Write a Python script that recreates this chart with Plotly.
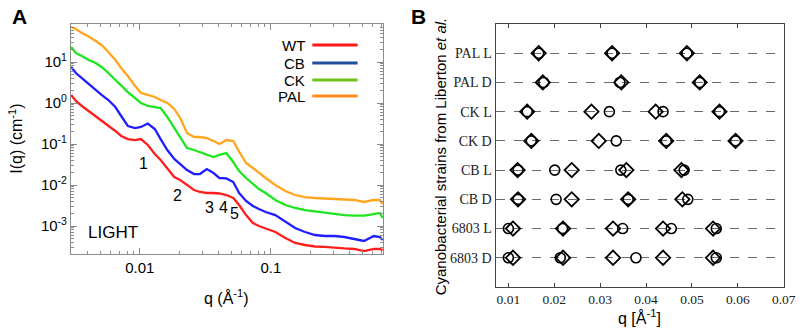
import plotly.graph_objects as go

W, H = 809, 332

# ---------------- Panel A data (SAXS curves, LIGHT) ----------------
q_A = [0.00299, 0.00325, 0.00361, 0.00407, 0.0046, 0.0051, 0.00575, 0.0065, 0.0072, 0.0081,
       0.0092, 0.0102, 0.0115, 0.013, 0.0144, 0.0162, 0.0183, 0.0203, 0.0229, 0.0259,
       0.0287, 0.0324, 0.0365, 0.0405, 0.0457, 0.0516, 0.0572, 0.0646, 0.0729, 0.0809,
       0.0912, 0.108, 0.129, 0.153, 0.182, 0.217, 0.257, 0.306, 0.363, 0.432,
       0.513, 0.61, 0.677, 0.713]

I_PAL = [71.4, 63.8, 50.9, 41.9, 32.5, 26.0, 17.5, 11.2, 7.14, 4.56,
         2.60, 1.75, 1.57, 1.40, 1.18, 1.0, 0.715, 0.431, 0.185, 0.148,
         0.148, 0.140, 0.118, 0.100, 0.125, 0.118, 0.065, 0.0344, 0.0260, 0.0196,
         0.0148, 0.0100, 0.00714, 0.00570, 0.00509, 0.00482, 0.00469, 0.00456, 0.00431, 0.00431,
         0.00385, 0.00431, 0.00431, 0.00344]

I_CK = [23.2, 16.6, 14.0, 11.2, 9.46, 7.55, 5.39, 3.64, 2.60, 1.85,
        1.32, 1.0, 0.845, 0.798, 0.755, 0.456, 0.245, 0.140, 0.0798, 0.0714,
        0.0638, 0.0570, 0.0482, 0.0540, 0.0600, 0.0364, 0.0219, 0.0148, 0.0106, 0.00798,
        0.00638, 0.00431, 0.00325, 0.00275, 0.00245, 0.00226, 0.00208, 0.00196, 0.00185, 0.00180,
        0.00180, 0.00196, 0.00208, 0.00157]

I_CB = [7.55, 5.39, 4.07, 2.91, 2.08, 1.57, 1.18, 0.798, 0.482, 0.275,
        0.245, 0.260, 0.316, 0.232, 0.132, 0.0714, 0.0431, 0.0325, 0.0232, 0.0185,
        0.0185, 0.0245, 0.0196, 0.0148, 0.0145, 0.0118, 0.00638, 0.00407, 0.00308, 0.00260,
        0.00219, 0.00185, 0.00125, 0.000894, 0.000714, 0.000603, 0.000570, 0.000570, 0.000539, 0.000482,
        0.000431, 0.000570, 0.000539, 0.000456]

I_WT = [1.57, 1.12, 0.845, 0.638, 0.482, 0.364, 0.275, 0.208, 0.157, 0.132,
        0.125, 0.132, 0.0946, 0.0570, 0.0407, 0.0260, 0.0157, 0.0132, 0.0100, 0.00755,
        0.00675, 0.00638, 0.00638, 0.00621, 0.00570, 0.00482, 0.00325, 0.00185, 0.00118, 0.00100,
        0.000869, 0.000714, 0.000510, 0.000385, 0.000344, 0.000316, 0.000308, 0.000291, 0.000283, 0.000275,
        0.000245, 0.000275, 0.000275, 0.000260]

series_A = ["WT", "CB", "CK", "PAL"]
curve_colors = {"WT": "#ff1e1e", "CB": "#1e1eff", "CK": "#1ee61e", "PAL": "#ffa51e"}
legend_colors = {"WT": "#ff1a1a", "CB": "#1f4f9f", "CK": "#6cc41c", "PAL": "#ff8c1a"}
I_data = {"WT": I_WT, "CB": I_CB, "CK": I_CK, "PAL": I_PAL}

peak_labels = ["1", "2", "3", "4", "5"]

# ---------------- Panel B data (peak positions) ----------------
strains = ["6803 D", "6803 L", "CB D", "CB L", "CK D", "CK L", "PAL D", "PAL L"]
diamond_q = [
    [0.0110, 0.0219, 0.0328, 0.0437, 0.0546],
    [0.0110, 0.0219, 0.0328, 0.0437, 0.0546],
    [0.0121, 0.0238, 0.0361, 0.0479],
    [0.0120, 0.0238, 0.0357, 0.0477],
    [0.0150, 0.0297, 0.0444, 0.0595],
    [0.0141, 0.0281, 0.0421, 0.0560],
    [0.0175, 0.0346, 0.0517],
    [0.0166, 0.0326, 0.0489],
]
circle_q = [
    [0.0100, 0.0213, 0.0378, 0.0553],
    [0.0100, 0.0218, 0.0349, 0.0455, 0.0553],
    [0.0121, 0.0204, 0.0361, 0.0491],
    [0.0121, 0.0201, 0.0345, 0.0483],
    [0.0150, 0.0335, 0.0444, 0.0595],
    [0.0141, 0.0320, 0.0437, 0.0560],
    [0.0177, 0.0343, 0.0517],
    [0.0166, 0.0326, 0.0489],
]
xticks_B = [0.01, 0.02, 0.03, 0.04, 0.05, 0.06, 0.07]

# ---------------- figure ----------------
def px(x):
    return x / W

def py(y):
    return 1 - y / H

fig = go.Figure()

for name in series_A:
    fig.add_trace(go.Scatter(x=q_A, y=I_data[name], mode="lines", name=name,
                             line=dict(color=curve_colors[name], width=2.3),
                             xaxis="x", yaxis="y", showlegend=False))

pos = list(range(1, len(strains) + 1))
for i, s in enumerate(strains):
    fig.add_trace(go.Scatter(x=diamond_q[i], y=[pos[i]] * len(diamond_q[i]), mode="markers",
                             marker=dict(symbol="diamond-open", size=11, color="black",
                                         line=dict(width=1.8, color="black")),
                             xaxis="x2", yaxis="y2", showlegend=False))
    fig.add_trace(go.Scatter(x=circle_q[i], y=[pos[i]] * len(circle_q[i]), mode="markers",
                             marker=dict(symbol="circle-open", size=10, color="black",
                                         line=dict(width=1.6, color="black")),
                             xaxis="x2", yaxis="y2", showlegend=False))

sans = "Arial, Liberation Sans, sans-serif"
serif = "Times New Roman, Liberation Serif, serif"
frameA = "#8c8c8c"

fig.update_layout(
    width=W, height=H, margin=dict(l=0, r=0, t=0, b=0),
    paper_bgcolor="white", plot_bgcolor="white",
    font=dict(family=sans, color="black"),
    xaxis=dict(type="log", domain=[px(72), px(389)], anchor="y",
               range=[-2.526, -0.143],
               tickvals=[0.01, 0.1], ticktext=["0.01", "0.1"],
               ticks="inside", ticklen=6, tickcolor=frameA, tickwidth=1,
               minor=dict(ticks="inside", ticklen=3, tickcolor=frameA, showgrid=False, dtick="D1"),
               showline=True, linecolor=frameA, linewidth=1, mirror="allticks",
               showgrid=False, zeroline=False, tickfont=dict(size=15, family=sans)),
    yaxis=dict(type="log", domain=[py(254), py(24)], anchor="x",
               range=[-3.683, 1.927],
               tickvals=[1e-3, 1e-2, 1e-1, 1, 10],
               ticktext=["10<sup>-3</sup>", "10<sup>-2</sup>", "10<sup>-1</sup>",
                         "10<sup>0</sup>", "10<sup>1</sup>"],
               ticks="inside", ticklen=6, tickcolor=frameA, tickwidth=1,
               minor=dict(ticks="inside", ticklen=3, tickcolor=frameA, showgrid=False, dtick="D1"),
               showline=True, linecolor=frameA, linewidth=1, mirror="allticks",
               showgrid=False, zeroline=False, tickfont=dict(size=15, family=sans)),
    xaxis2=dict(domain=[px(503), px(796)], anchor="y2", range=[0.0072, 0.0701],
                tickvals=xticks_B, ticktext=[f"{v:.2f}" for v in xticks_B],
                ticks="inside", ticklen=4, tickcolor="#444", mirror="allticks",
                showline=True, linecolor="#444", linewidth=1,
                showgrid=False, zeroline=False,
                tickfont=dict(size=13.5, family=serif, color="#222")),
    yaxis2=dict(domain=[py(287), py(24)], anchor="x2", range=[0.0, 9.0],
                tickvals=pos, ticktext=strains, ticks="", mirror=True,
                showline=True, linecolor="#444", linewidth=1,
                showgrid=True, gridcolor="#6a6a6a", gridwidth=1.4, griddash="dash",
                zeroline=False, tickfont=dict(size=14, family=serif, color="#222")),
)

ann = []
# panel letters
ann.append(dict(text="<b>A</b>", x=px(20), y=py(16), font=dict(size=21)))
ann.append(dict(text="<b>B</b>", x=px(425), y=py(16), font=dict(size=21)))
# axis titles
ann.append(dict(text="I(q) (cm<sup>-1</sup>)", x=px(16), y=py(139), textangle=-90, font=dict(size=16)))
ann.append(dict(text="q (Å<sup>-1</sup>)", x=px(230), y=py(297), font=dict(size=16)))
ann.append(dict(text="q [Å<sup>-1</sup>]", x=px(649), y=py(317), font=dict(size=16)))
ann.append(dict(text="Cyanobacterial strains from Liberton <i>et al.</i>", x=px(447), y=py(156),
                textangle=-90, font=dict(size=15)))
# peak numbers and condition label
for lbl, (ax_, ay_) in zip(peak_labels, [(146, 163), (180, 195), (213, 207), (227, 207), (238, 213)]):
    ann.append(dict(text=lbl, x=px(ax_), y=py(ay_), font=dict(size=16)))
ann.append(dict(text="LIGHT", x=px(115), y=py(233), font=dict(size=17)))
# manual legend text
shapes = []
for name, ly in zip(series_A, [45, 63, 80, 96]):
    ann.append(dict(text=name, x=px(312), y=py(ly), xanchor="right", font=dict(size=15)))
    shapes.append(dict(type="line", xref="paper", yref="paper", x0=px(317), x1=px(363),
                       y0=py(ly), y1=py(ly), line=dict(color=legend_colors[name], width=3)))

for a in ann:
    a.setdefault("xref", "paper")
    a.setdefault("yref", "paper")
    a.setdefault("showarrow", False)
    a.setdefault("xanchor", "center")
    a.setdefault("yanchor", "middle")
fig.update_layout(annotations=ann, shapes=shapes)

fig.write_html("out.html", config={"displayModeBar": False},
               post_script="document.body.style.margin='0';document.body.style.overflow='hidden';")
